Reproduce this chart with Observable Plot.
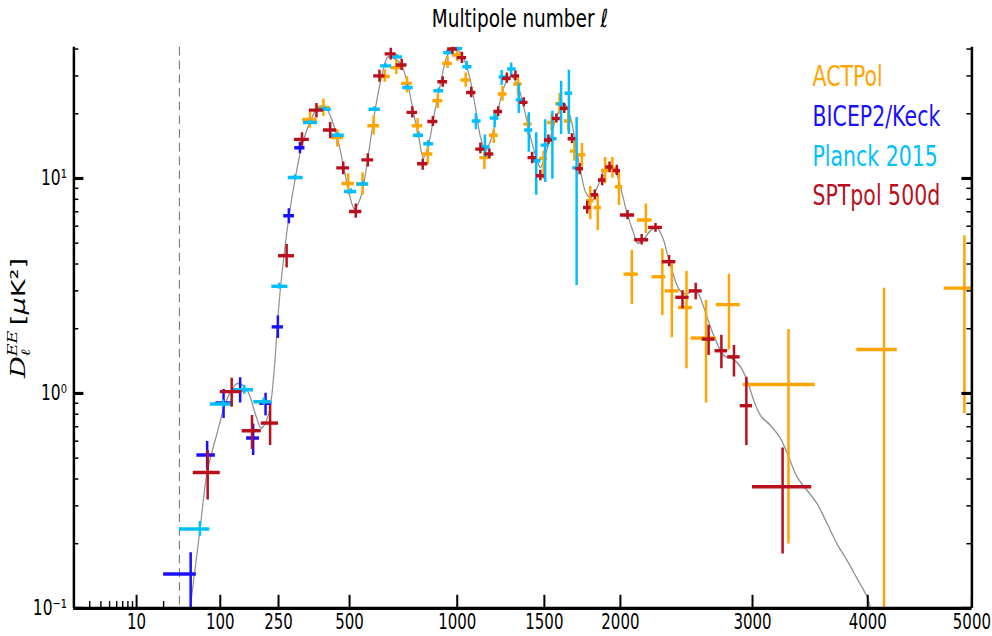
<!DOCTYPE html>
<html>
<head>
<meta charset="utf-8">
<script src="https://cdn.jsdelivr.net/npm/d3@7"></script>
<script src="https://cdn.jsdelivr.net/npm/@observablehq/plot@0.6"></script>
<style>
  html, body { margin: 0; padding: 0; background: #fff; }
  #chart svg { display: block; }
</style>
</head>
<body>
<div id="chart"></div>
<script>
// ---------------------------------------------------------------
// EE polarization band powers, D_ell^EE in muK^2
// ---------------------------------------------------------------

// ACTPol
const actEll = [352,400,452,495,553,600,648,700,750,800, 850,900,950,1000,1045,1147,1200,1250,1340,1400, 1495,1545,1595,1650,1690,1740,1795,1845,1895,1945, 1990,2080,2180,2300,2370,2480,2630,2810,3300,4150, 4925];
const actD   = [18.8,21.4,15.5,9.48,9.42,17.6,29.8,32.8,27.7,17.6, 13.0,23.0,34.3,37.5,28.7,12.5,15.9,24.7,27.5,17.9, 12.4,18.2,22.3,18.5,13.4,12.9,7.88,7.33,10.9,11.1, 9.15,3.59,6.41,3.49,3.00,2.51,1.81,2.59,1.10,1.60, 3.09];
const actLo  = [17.1,19.4,14.0,8.41,8.33,15.9,28.0,30.3,24.9,16.1, 11.6,21.1,32.4,35.0,26.5,11.0,14.5,22.8,24.2,15.9, 9.9,16.6,19.8,16.6,12.0,11.3,6.41,5.71,9.42,10.0, 7.47,2.59,5.53,2.30,1.81,1.30,0.899,1.59,0.199,0.05, 0.802];
const actHi  = [20.4,23.4,16.8,10.5,10.6,19.5,32.0,35.5,29.7,18.9, 13.9,24.7,36.8,40.0,30.9,13.2,16.9,26.7,29.4,19.5, 13.4,19.9,24.8,20.7,14.8,14.5,9.15,8.33,12.5,12.5, 10.9,4.61,7.59,4.69,4.0,3.69,2.70,3.57,1.98,3.08, 5.41];
const actBinLo = [327,375,427,470,528,575,623,675,725,775, 825,875,925,975,1020,1122,1175,1225,1315,1375, 1470,1520,1570,1625,1665,1715,1770,1820,1870,1920, 1965,2025,2120,2225,2320,2420,2515,2710,2925,3900, 4725];
const actBinHi = [377,425,477,520,578,625,673,725,775,825, 875,925,975,1025,1070,1172,1225,1275,1365,1425, 1520,1570,1620,1675,1715,1765,1820,1870,1920,1970, 2015,2125,2225,2325,2425,2525,2710,2900,3530,4275, 5100];

// BICEP2/Keck
const bkEll = [46,74,107,145,178,212,248,282,318];
const bkD   = [0.1445,0.517,0.902,1.04,0.620,0.90,2.04,6.71,13.9];
const bkLo  = [0.07,0.44,0.763,0.90,0.513,0.785,1.80,6.14,13.0];
const bkHi  = [0.181,0.596,1.04,1.18,0.72,1.0,2.29,7.21,14.7];
const bkBinLo = [20,56,91,126,161,196,231,266,301];
const bkBinHi = [55,90,125,160,195,230,265,300,335];

// Planck 2015
const plEll = [61,106,155,207,252,302,355,405,454,505, 555,603,651,703,750,805,852,905,948,1000, 1050,1100,1150,1205,1245,1300,1345,1405,1450,1505, 1550,1605,1655,1705];
const plD   = [0.234,0.893,1.04,0.915,3.15,10.1,18.2,21.0,15.9,8.70, 9.42,21.0,33.4,36.8,26.5,15.9,14.5,25.6,38.5,40.3, 33.1,18.5,14.0,19.1,29.7,32.3,23.2,16.8,12.1,14.3, 15.3,22.2,24.9,11.2];
const plLo  = [0.216,0.86,0.99,0.88,3.05,9.8,17.8,20.5,15.5,8.45, 9.15,20.5,32.6,35.9,25.8,15.4,14.0,24.9,37.5,39.0, 31.7,16.8,12.5,17.2,27.0,29.4,20.0,13.2,8.33,9.57, 9.9,16.0,16.0,3.17];
const plHi  = [0.253,0.93,1.09,0.95,3.25,10.4,18.6,21.5,16.3,8.95, 9.7,21.5,34.2,37.7,27.2,16.4,15.0,26.3,39.5,41.5, 35.0,20.0,15.9,20.0,31.7,34.4,27.5,20.2,16.3,18.7, 20.5,28.3,31.8,19.2];
const plBinLo = [30,80,130,180,230,280,330,380,430,480, 530,580,630,680,730,780,830,880,930,980, 1030,1080,1130,1180,1230,1280,1330,1380,1430,1480, 1530,1580,1630,1680];
const plBinHi = [79,129,179,229,279,329,379,429,479,529, 579,629,679,729,779,829,879,929,979,1029, 1079,1129,1179,1229,1279,1329,1379,1429,1479,1529, 1579,1629,1679,1729];

// SPTpol 500d
const sptEll = [75,125,175,225,275,325,375,425,475,525, 575,625,675,725,775,825,875,925,975,1025, 1075,1125,1175,1225,1275,1325,1375,1425,1475,1525, 1575,1625,1675,1725,1775,1825,1875,1925,1975,2050, 2150,2250,2350,2450,2550,2650,2750,2850,2950,3250];
const sptD   = [0.429,1.02,0.671,0.728,4.37,15.2,20.8,16.8,11.2,7.02, 12.2,30.0,38.0,33.7,20.3,11.7,18.4,28.2,40.0,36.5, 25.1,13.7,13.0,20.5,29.2,30.0,22.6,12.5,10.3,15.1, 19.0,21.2,15.3,11.1,7.33,8.40,9.83,11.3,10.9,6.76, 5.19,5.92,4.10,2.80,3.00,1.79,1.58,1.48,0.877,0.368];
const sptLo  = [0.319,0.861,0.547,0.571,3.83,14.1,19.1,15.3,10.4,6.52, 11.3,28.0,35.5,31.7,19.1,10.9,17.4,26.5,37.8,34.2, 23.7,13.0,12.3,19.4,27.7,28.5,21.5,11.7,9.75,14.4, 18.1,20.0,14.5,10.4,6.83,7.93,9.24,10.6,10.3,6.41, 4.90,5.61,3.88,2.47,2.72,1.50,1.30,1.19,0.571,0.179];
const sptHi  = [0.541,1.174,0.788,0.877,4.92,16.3,22.3,18.2,11.9,7.59, 13.0,31.8,40.3,35.8,21.5,12.3,19.4,29.7,42.0,38.6, 26.5,14.6,13.7,21.5,30.9,31.6,23.7,13.2,10.9,15.9, 19.9,22.3,16.1,11.7,7.81,8.83,10.4,11.9,11.5,7.08, 5.47,6.17,4.37,3.00,3.25,2.07,1.86,1.67,1.187,0.557];
// bin edges: band i spans sptEdges[i] .. sptEdges[i + 1]
const sptEdges = [50,100,150,200,250,300,350,400,450,500, 550,600,650,700,750,800,850,900,950,1000, 1050,1100,1150,1200,1250,1300,1350,1400,1450,1500, 1550,1600,1650,1700,1750,1800,1850,1900,1950,2000, 2100,2200,2300,2400,2500,2600,2700,2800,2900,3000, 3500];

// best-fit LCDM EE spectrum
const theoryEll = [47,61,74,92,116,138,163,184,200,221, 236,246,256,282,303,326,354,380,408,433, 458,477,497,520,545,565,586,608,637,659, 674,721,751,782,806,828,854,879,913,948, 986,1027,1062,1098,1126,1153,1181,1219,1257,1296, 1335,1375,1416,1456,1476,1518,1559,1602,1627,1666, 1698,1731,1764,1797,1842,1886,1932,1978,2013,2048, 2095,2121,2166,2213,2258,2302,2337,2373,2423,2474, 2525,2563,2613,2665,2718,2770,2837,2903,2957,3011, 3067,3150,3234,3303,3375,3461,3548,3636,3724,3814, 3905,3996,4026];
const theoryD = [0.111,0.230,0.429,0.636,0.958,1.113,1.029,0.802,0.690,0.802, 1.231,2.03,3.11,6.59,10.1,14.45,18.5,21.4,21.4,18.5, 14.45,11.25,8.64,7.21,8.16,10.48,14.97,21.4,30.6,36.5, 36.8,34.0,27.96,19.93,15.5,12.48,14.45,19.22,27.5,37.2, 40.7,37.2,30.6,21.4,15.5,13.45,14.97,19.93,26.5,30.0, 27.5,21.4,15.5,12.09,11.25,13.74,17.6,21.4,22.2,19.22, 14.45,10.86,8.64,8.16,9.08,10.86,11.46,10.29,8.46,6.83, 5.51,5.0,5.24,5.71,5.92,5.32,4.45,3.72,3.06,2.90, 3.00,2.95,2.51,2.03,1.70,1.50,1.45,1.33,1.146,0.925, 0.788,0.708,0.616,0.504,0.407,0.353,0.306,0.247,0.199,0.1667, 0.137,0.1125,0.101];

// axis ticks
const xMajorTicks = [10,100,250,500,1000,1500,2000,3000,4000,5000];
const xMinorTicks = [3,4,5,6,7,8,9,20];
const yMajorTicks = [0.1,1,10];
const yTickLabels = ["10\u207B\u00B9","10\u2070","10\u00B9"];
const yMinorTicks = [0.2,0.3,0.4,0.5,0.6,0.7,0.8,0.9,2,3,4,5,6,7,8,9,20,30,40];
const lowEllBoundary = [30];

const experiments = ["ACTPol","BICEP2/Keck","Planck 2015","SPTpol 500d"];
const colors = ["#ffa500","#1a10ff","#00bfff","#b8101c"];

// ---------------------------------------------------------------
// Hybrid multipole axis: logarithmic below ell = 30, ell^0.6 above.
// ---------------------------------------------------------------
const ELL_SWITCH = 30, POW = 0.6, LOG_GAIN = 17.886;
function tx(l) {
  return l >= ELL_SWITCH
    ? Math.pow(l, POW)
    : Math.pow(ELL_SWITCH, POW) + LOG_GAIN * Math.log10(l / ELL_SWITCH);
}

function bands(ell, D, lo, hi, binLo, binHi) {
  return ell.map((l, i) => ({ell: l, D: D[i], lo: lo[i], hi: hi[i], binLo: binLo[i], binHi: binHi[i]}));
}
const actRows = bands(actEll, actD, actLo, actHi, actBinLo, actBinHi);
const bkRows = bands(bkEll, bkD, bkLo, bkHi, bkBinLo, bkBinHi);
const plRows = bands(plEll, plD, plLo, plHi, plBinLo, plBinHi);
const sptRows = bands(sptEll, sptD, sptLo, sptHi, sptEdges.slice(0, -1), sptEdges.slice(1));
const theory = theoryEll.map((l, i) => ({ell: l, D: theoryD[i]}));

// drawing is done in a 992 x 468 space, stretched vertically to 636 px
const W = 992, H = 468, OUT_H = 636;
const mL = 73.4, mR = 20.6, mT = 34.4, mB = 20.8;
const frameW = W - mL - mR, frameH = H - mT - mB;
const BAR = 2.5;

function crosses(rows, color) {
  return [
    Plot.ruleY(rows, {y: "D", x1: d => tx(d.binLo), x2: d => tx(d.binHi), stroke: color, strokeWidth: BAR, clip: true}),
    Plot.ruleX(rows, {x: d => tx(d.ell), y1: "lo", y2: "hi", stroke: color, strokeWidth: BAR, clip: true})
  ];
}

const legendMarks = experiments.map((name, i) =>
  Plot.text([name], {
    text: d => d, frameAnchor: "top-left", dx: 738.6, dy: 22 + 29.2 * i,
    textAnchor: "start", lineAnchor: "middle", fill: colors[i], fontSize: 20.5
  })
);

const chart = Plot.plot({
  width: W, height: H,
  marginLeft: mL, marginRight: mR, marginTop: mT, marginBottom: mB,
  x: {type: "linear", domain: [tx(2), tx(5000)], axis: null},
  y: {type: "log", domain: [0.1, 40.7], axis: null},
  style: {fontFamily: "'DejaVu Sans', sans-serif", background: "#fff", color: "#000"},
  marks: [
    // low-ell boundary
    Plot.ruleX(lowEllBoundary, {x: tx, stroke: "#6e6e6e", strokeWidth: 1, strokeDasharray: "6.4,3.7"}),
    // model curve
    Plot.line(theory, {x: d => tx(d.ell), y: "D", stroke: "#8f8f8f", strokeWidth: 1.2, curve: "catmull-rom", clip: true}),
    // band powers
    ...crosses(actRows, colors[0]),
    ...crosses(bkRows, colors[1]),
    ...crosses(plRows, colors[2]),
    ...crosses(sptRows, colors[3]),
    // spines: left, right, bottom
    Plot.ruleX([2, 5000], {x: tx, stroke: "#000", strokeWidth: 2.5}),
    Plot.ruleY([0.1], {stroke: "#000", strokeWidth: 2.4}),
    // inward ticks on the bottom axis
    Plot.ruleX(xMajorTicks, {x: tx, insetTop: frameH - 9.5, stroke: "#000", strokeWidth: 2}),
    Plot.ruleX(xMinorTicks, {x: tx, insetTop: frameH - 5, stroke: "#000", strokeWidth: 1.4}),
    // inward ticks on the left and right axes
    Plot.ruleY(yMajorTicks, {y: d => d, insetRight: frameW - 10, stroke: "#000", strokeWidth: 2.3}),
    Plot.ruleY(yMinorTicks, {y: d => d, insetRight: frameW - 5, stroke: "#000", strokeWidth: 1.1}),
    Plot.ruleY(yMajorTicks, {y: d => d, insetLeft: frameW - 10, stroke: "#000", strokeWidth: 2.3}),
    Plot.ruleY(yMinorTicks, {y: d => d, insetLeft: frameW - 5, stroke: "#000", strokeWidth: 1.1}),
    // tick labels
    Plot.text(xMajorTicks, {x: tx, text: d => String(d), frameAnchor: "bottom", lineAnchor: "top", dy: 4.6, fontSize: 15, fill: "#000"}),
    Plot.text(yMajorTicks, {y: d => d, text: (d, i) => yTickLabels[i], frameAnchor: "left", textAnchor: "end", dx: -7, fontSize: 15.5, fill: "#000"}),
    // title
    Plot.text(["Multipole number \u2113"], {text: d => d, frameAnchor: "top", dx: -3, dy: -21, lineAnchor: "middle", fontSize: 18.5, fill: "#000"}),
    // legend
    ...legendMarks
  ]
});

// stretch vertically to the output height
chart.setAttribute("height", OUT_H);
chart.setAttribute("preserveAspectRatio", "none");
chart.style.width = W + "px";
chart.style.height = OUT_H + "px";
chart.style.maxWidth = "none";

// y-axis label  D_ell^EE [muK^2]
const svg = d3.select(chart);
const lab = svg.append("text")
  .attr("transform", "translate(25,234) rotate(-90)")
  .attr("text-anchor", "middle")
  .attr("font-family", "'DejaVu Sans', sans-serif")
  .attr("font-size", 20)
  .attr("fill", "#000");
lab.append("tspan").attr("font-family", "'DejaVu Serif', serif").attr("font-style", "italic").text("D");
lab.append("tspan").attr("font-family", "'DejaVu Serif', serif").attr("font-style", "italic").attr("font-size", 13).attr("dy", 5).text("\u2113");
lab.append("tspan").attr("font-family", "'DejaVu Serif', serif").attr("font-style", "italic").attr("font-size", 13).attr("dx", -5.5).attr("dy", -13).text("EE");
lab.append("tspan").attr("dy", 8).text("\u2009[");
lab.append("tspan").attr("font-style", "italic").text("\u03BC");
lab.append("tspan").text("K\u00B2]");

document.getElementById("chart").appendChild(chart);
</script>
</body>
</html>
